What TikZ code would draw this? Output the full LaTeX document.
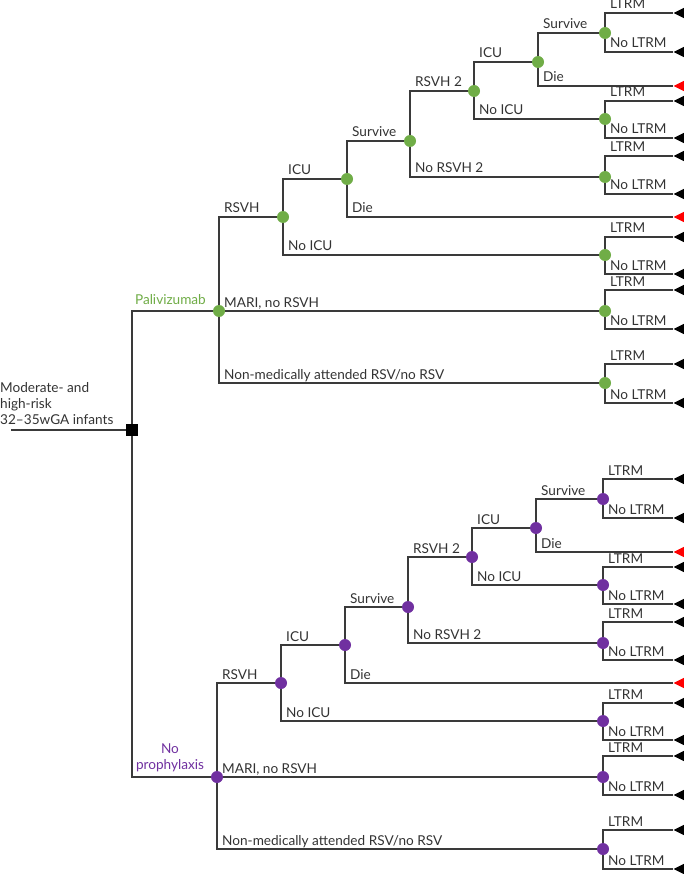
\documentclass[tikz,border=0pt]{standalone}
\usepackage{fontspec}
\setmainfont{Lato}
\usetikzlibrary{shapes.geometric}
\definecolor{lin}{HTML}{3A3A3A}
\definecolor{txt}{HTML}{333333}
\definecolor{grn}{HTML}{70AD47}
\definecolor{prp}{HTML}{7030A0}
\definecolor{dth}{HTML}{FF0000}
\tikzset{
  edge/.style={draw=lin, line width=1.3pt},
  chance/.style={circle, fill=#1, draw=none, inner sep=0pt, minimum size=12pt},
  decision/.style={rectangle, fill=black, inner sep=0pt, minimum size=12pt},
  tri/.style={isosceles triangle, shape border rotate=180, isosceles triangle stretches,
    minimum height=11pt, minimum width=11pt, inner sep=0pt, draw=none, fill=#1, anchor=apex},
  lab/.style={anchor=base west, inner sep=0pt, text=txt, font=\fontsize{13.6}{16}\selectfont},
}
\newcommand\blab[3]{\path (#1 |- #2) ++(5pt,4pt) node[lab]{#3};}
\newcommand\leafpair[3]{%
  \node[tri=black] (#1L) at (673,#2) {};
  \node[tri=black] (#1N) at (673,#3) {};
  \draw[edge] (#1) |- (#1L);
  \draw[edge] (#1) |- (#1N);
  \blab{#1}{#1L}{LTRM}
  \blab{#1}{#1N}{No LTRM}
}
\newcommand\halftree[4]{% #1 prefix, #2 colour, #3 x offset, #4 y offset
  \node[chance=#2] (#1c)   at ({219+#3},{311+#4}) {};
  \node[chance=#2] (#1rs)  at ({283+#3},{217+#4}) {};
  \node[chance=#2] (#1icu) at ({347+#3},{179+#4}) {};
  \node[chance=#2] (#1sv)  at ({410+#3},{141+#4}) {};
  \node[chance=#2] (#1rr)  at ({474+#3},{91+#4}) {};
  \node[chance=#2] (#1ii)  at ({538+#3},{62+#4}) {};
  \node[chance=#2] (#1ss)  at ({605+#3},{33+#4}) {};
  \node[chance=#2] (#1nn)  at ({605+#3},{119+#4}) {};
  \node[chance=#2] (#1nr)  at ({605+#3},{177+#4}) {};
  \node[chance=#2] (#1ni)  at ({605+#3},{255+#4}) {};
  \node[chance=#2] (#1ma)  at ({605+#3},{311+#4}) {};
  \node[chance=#2] (#1nm)  at ({605+#3},{383+#4}) {};
  \node[tri=dth] (#1da) at (673,{217+#4}) {};
  \node[tri=dth] (#1db) at (673,{86+#4}) {};
  \draw[edge] (#1c) |- (#1rs);
  \draw[edge] (#1c) -- (#1ma);
  \draw[edge] (#1c) |- (#1nm);
  \draw[edge] (#1rs) |- (#1icu);
  \draw[edge] (#1rs) |- (#1ni);
  \draw[edge] (#1icu) |- (#1sv);
  \draw[edge] (#1icu) |- (#1da);
  \draw[edge] (#1sv) |- (#1rr);
  \draw[edge] (#1sv) |- (#1nr);
  \draw[edge] (#1rr) |- (#1ii);
  \draw[edge] (#1rr) |- (#1nn);
  \draw[edge] (#1ii) |- (#1ss);
  \draw[edge] (#1ii) |- (#1db);
  \blab{#1c}{#1rs}{RSVH}
  \blab{#1c}{#1ma}{MARI, no RSVH}
  \blab{#1c}{#1nm}{Non-medically attended RSV/no RSV}
  \blab{#1rs}{#1icu}{ICU}
  \blab{#1rs}{#1ni}{No ICU}
  \blab{#1icu}{#1sv}{Survive}
  \blab{#1icu}{#1da}{Die}
  \blab{#1sv}{#1rr}{RSVH 2}
  \blab{#1sv}{#1nr}{No RSVH 2}
  \blab{#1rr}{#1ii}{ICU}
  \blab{#1rr}{#1nn}{No ICU}
  \blab{#1ii}{#1ss}{Survive}
  \blab{#1ii}{#1db}{Die}
  \leafpair{#1ss}{{13+#4}}{{52+#4}}
  \leafpair{#1nn}{{101+#4}}{{138+#4}}
  \leafpair{#1nr}{{156+#4}}{{194+#4}}
  \leafpair{#1ni}{{237+#4}}{{274+#4}}
  \leafpair{#1ma}{{290+#4}}{{329+#4}}
  \leafpair{#1nm}{{364+#4}}{{403+#4}}
}
\begin{document}
\begin{tikzpicture}[x=1pt,y=-1pt]
  \fill[white] (0,0) rectangle (684,874);
  \useasboundingbox (0,0) rectangle (684,874);
  \halftree{t}{grn}{0}{0}
  \halftree{b}{prp}{-2}{466}
  \coordinate (start) at (11,430);
  \node[decision] (dec) at (132,430) {};
  \draw[edge] (start) -- (dec);
  \draw[edge] (dec) |- (tc);
  \draw[edge] (dec) |- (bc);
  \node[anchor=base west, inner sep=0pt, text=txt, align=left,
        font=\fontsize{13.6}{16}\selectfont] (root) at (0,424)
        {Moderate- and\\high-risk\\32–35wGA infants};
  \path (tc) ++(-13pt,7pt) node[anchor=base east, inner sep=0pt, text=grn,
        font=\fontsize{13.6}{16}\selectfont] (pal) {Palivizumab};
  \path (bc) ++(-47pt,8pt) node[anchor=base, inner sep=0pt, text=prp, align=center,
        font=\fontsize{13.6}{16}\selectfont] (nop) {No\\prophylaxis};
\end{tikzpicture}
\end{document}
